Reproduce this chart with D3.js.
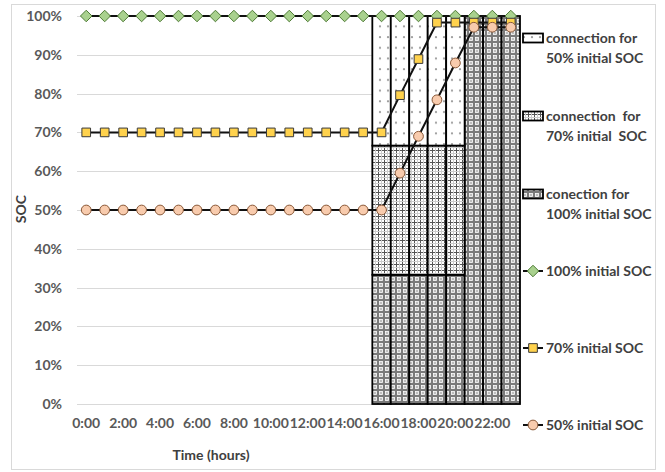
<!DOCTYPE html>
<html>
<head>
<meta charset="utf-8">
<script src="https://cdn.jsdelivr.net/npm/d3@7"></script>
<style>
  body { margin: 0; background: #fff; }
  text { font-family: Lato, "Open Sans", sans-serif; font-weight: bold; }
</style>
</head>
<body>
<svg id="chart"></svg>
<script>
// categories (one per hour) and the labels that show on the axis
const hours = ["0:00","1:00","2:00","3:00","4:00","5:00","6:00","7:00","8:00","9:00","10:00","11:00",
  "12:00","13:00","14:00","15:00","16:00","17:00","18:00","19:00","20:00","21:00","22:00","23:00"];
const hourTicks = ["0:00","2:00","4:00","6:00","8:00","10:00","12:00","14:00","16:00","18:00","20:00","22:00"];
const socTicks = [0, 10, 20, 30, 40, 50, 60, 70, 80, 90, 100];

// stacked connection columns (% of axis)
const conn100 = [0,0,0,0,0,0,0,0,0,0,0,0,0,0,0,0,33.3,33.3,33.3,33.3,33.3,100,100,100];
const conn70  = [0,0,0,0,0,0,0,0,0,0,0,0,0,0,0,0,33.3,33.3,33.3,33.3,33.3,0,0,0];
const conn50  = [0,0,0,0,0,0,0,0,0,0,0,0,0,0,0,0,33.4,33.4,33.4,33.4,33.4,0,0,0];

// SOC lines
const soc100 = [100,100,100,100,100,100,100,100,100,100,100,100,100,100,100,100,100,100,100,100,100,100,100,100];
const soc70  = [70,70,70,70,70,70,70,70,70,70,70,70,70,70,70,70,70,79.6,88.9,98.3,98.3,98.3,98.3,98.3];
const soc50  = [50,50,50,50,50,50,50,50,50,50,50,50,50,50,50,50,50,59.5,69,78.4,87.9,97.1,97.1,97.1];

const width = 665, height = 472;
const plotLeft = 77, plotRight = 520, plotTop = 16, plotBottom = 404;
const fontSize = 14;

const svg = d3.select("#chart").attr("width", width).attr("height", height);

// fill patterns for the columns
const defs = svg.append("defs");
const pDots = defs.append("pattern").attr("id", "pDots").attr("patternUnits", "userSpaceOnUse")
  .attr("width", 8).attr("height", 10.7);
pDots.append("rect").attr("width", 8).attr("height", 10.7).attr("fill", "#fff");
pDots.append("circle").attr("cx", 4).attr("cy", 5).attr("r", 1.1).attr("fill", "#999");

const pGrid = defs.append("pattern").attr("id", "pGrid").attr("patternUnits", "userSpaceOnUse")
  .attr("width", 6).attr("height", 6);
pGrid.append("rect").attr("width", 6).attr("height", 6).attr("fill", "#fff");
pGrid.append("line").attr("x1", 0.5).attr("x2", 0.5).attr("y1", 0).attr("y2", 6).attr("stroke", "#555").attr("stroke-width", 1);
pGrid.append("line").attr("x1", 0).attr("x2", 6).attr("y1", 0.5).attr("y2", 0.5).attr("stroke", "#555").attr("stroke-width", 1);
pGrid.append("line").attr("x1", 3.5).attr("x2", 3.5).attr("y1", 0).attr("y2", 6).attr("stroke", "#ccc").attr("stroke-width", 1);
pGrid.append("line").attr("x1", 0).attr("x2", 6).attr("y1", 3.5).attr("y2", 3.5).attr("stroke", "#ccc").attr("stroke-width", 1);

const pDark = defs.append("pattern").attr("id", "pDark").attr("patternUnits", "userSpaceOnUse")
  .attr("width", 6).attr("height", 6);
pDark.append("rect").attr("width", 6).attr("height", 6).attr("fill", "#7a7a7a");
pDark.append("rect").attr("x", 1.5).attr("y", 1.5).attr("width", 3).attr("height", 3)
  .attr("fill", "#bdbdbd").attr("stroke", "#fff").attr("stroke-width", 0.8);

// chart area border
svg.append("rect").attr("x", 11.5).attr("y", 4.5).attr("width", 644).attr("height", 465)
  .attr("fill", "none").attr("stroke", "#d9d9d9");

const x = d3.scaleBand().domain(hours).range([plotLeft, plotRight]).padding(0);
const y = d3.scaleLinear().domain([0, 100]).range([plotBottom, plotTop]);
const cx = h => x(h) + x.bandwidth() / 2;

// gridlines + y labels
svg.append("g").selectAll("line").data(socTicks).join("line")
  .attr("x1", plotLeft).attr("x2", plotRight)
  .attr("y1", d => Math.round(y(d)) + 0.5).attr("y2", d => Math.round(y(d)) + 0.5)
  .attr("stroke", "#d9d9d9");

const yAxis = svg.append("g").attr("transform", `translate(${plotLeft},0)`)
  .call(d3.axisLeft(y).tickValues(socTicks).tickFormat(d => d + "%").tickSize(0).tickPadding(15));
yAxis.select(".domain").remove();
yAxis.selectAll("text").attr("fill", "#595959").attr("font-size", fontSize);

// x labels
const xAxis = svg.append("g").attr("transform", `translate(0,${plotBottom})`)
  .call(d3.axisBottom(x).tickValues(hourTicks).tickSize(0).tickPadding(14));
xAxis.select(".domain").remove();
xAxis.selectAll("text").attr("fill", "#595959").attr("font-size", fontSize);

// stacked columns
const rows = hours.map((h, i) => ({ hour: h, c100: conn100[i], c70: conn70[i], c50: conn50[i] }));
const stack = d3.stack().keys(["c100", "c70", "c50"])(rows);
const fills = { c100: "url(#pDark)", c70: "url(#pGrid)", c50: "url(#pDots)" };

svg.append("g").selectAll("g").data(stack).join("g")
  .attr("fill", d => fills[d.key])
  .selectAll("rect").data(d => d.filter(p => p[1] - p[0] > 0)).join("rect")
  .attr("x", d => x(d.data.hour))
  .attr("width", x.bandwidth())
  .attr("y", d => y(d[1]))
  .attr("height", d => y(d[0]) - y(d[1]))
  .attr("stroke", "#000").attr("stroke-width", 1.8);

// lines and markers
const lineGen = d3.line().x((d, i) => cx(hours[i])).y(d => y(d));
const series = [
  { name: "100% initial SOC", values: soc100, shape: d3.symbolDiamond2, size: 85, fill: "#a9d18e", stroke: "#4e7a35" },
  { name: "70% initial SOC", values: soc70, shape: d3.symbolSquare, size: 75, fill: "#ffd24d", stroke: "#3a3a3a" },
  { name: "50% initial SOC", values: soc50, shape: d3.symbolCircle, size: 75, fill: "#f8cbad", stroke: "#8a5a3a" }
];

series.forEach(s => {
  svg.append("path").datum(s.values).attr("d", lineGen)
    .attr("fill", "none").attr("stroke", "#111").attr("stroke-width", 2);
  svg.append("g").selectAll("path").data(s.values).join("path")
    .attr("d", d3.symbol().type(s.shape).size(s.size))
    .attr("transform", (d, i) => `translate(${cx(hours[i])},${y(d)})`)
    .attr("fill", s.fill).attr("stroke", s.stroke).attr("stroke-width", 1);
});

// axis titles
svg.append("text").attr("x", 211).attr("y", 460).attr("text-anchor", "middle")
  .attr("font-size", fontSize).attr("fill", "#404040").text("Time (hours)");
svg.append("text").attr("transform", "translate(26,209) rotate(-90)").attr("text-anchor", "middle")
  .attr("font-size", fontSize).attr("fill", "#404040").text("SOC");

// legend
const barLegend = [
  { lines: ["connection for", "50% initial SOC"], fill: "url(#pDots)", y: 38 },
  { lines: ["connection  for", "70% initial  SOC"], fill: "url(#pGrid)", y: 116 },
  { lines: ["conection for", "100% initial SOC"], fill: "url(#pDark)", y: 194 }
];
const lg = svg.append("g");
barLegend.forEach(b => {
  lg.append("rect").attr("x", 523).attr("y", b.y - 4.5).attr("width", 20).attr("height", 9)
    .attr("fill", b.fill).attr("stroke", "#000").attr("stroke-width", 1.8);
  const t = lg.append("text").attr("x", 546).attr("y", b.y + 4.5)
    .attr("font-size", fontSize).attr("fill", "#404040").style("white-space", "pre");
  b.lines.forEach((l, i) => t.append("tspan").attr("x", 546).attr("dy", i ? 20 : 0).text(l));
});

const lineLegendY = [271, 348, 425];
series.forEach((s, i) => {
  const ly = lineLegendY[i];
  lg.append("line").attr("x1", 523).attr("x2", 543).attr("y1", ly).attr("y2", ly)
    .attr("stroke", "#111").attr("stroke-width", 2);
  lg.append("path").attr("d", d3.symbol().type(s.shape).size(s.size)())
    .attr("transform", `translate(533,${ly})`)
    .attr("fill", s.fill).attr("stroke", s.stroke);
  lg.append("text").attr("x", 546).attr("y", ly + 5)
    .attr("font-size", fontSize).attr("fill", "#404040").text(s.name);
});
</script>
</body>
</html>
